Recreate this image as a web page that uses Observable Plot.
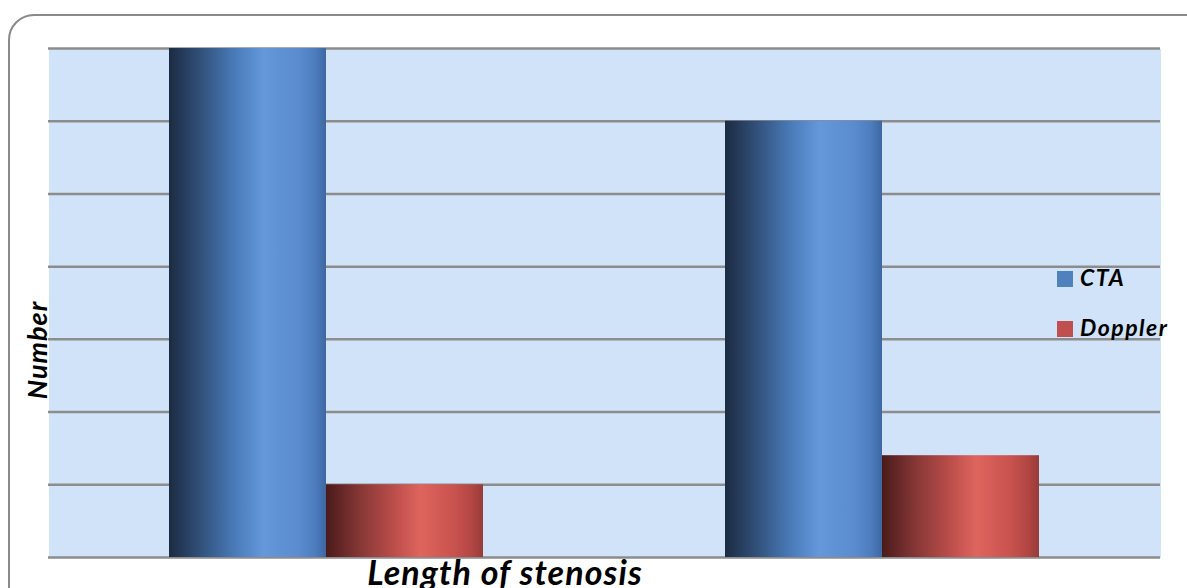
<!DOCTYPE html>
<html>
<head>
<meta charset="utf-8">
<script src="https://cdn.jsdelivr.net/npm/d3@7"></script>
<script src="https://cdn.jsdelivr.net/npm/@observablehq/plot@0.6"></script>
<style>
  html, body { margin: 0; padding: 0; background: #fff; overflow: hidden; width: 1187px; height: 588px; }
  #wrap { position: relative; width: 1187px; height: 588px; }
  #border { position: absolute; left: 8px; top: 14px; width: 1220px; height: 620px;
            border: 2px solid #8a8a8a; border-radius: 26px; box-sizing: border-box; }
  #chart { position: absolute; left: 0; top: 0; }
</style>
</head>
<body>
<div id="wrap">
  <div id="border"></div>
  <div id="chart"></div>
</div>
<script>
// Stenosis length groups and the count found by each modality
const groups = ["Short segment", "Long segment"];
const series = ["CTA", "Doppler"];
const ctaValues = [7, 6];
const dopplerValues = [1, 1.4];
const gridValues = [0, 1, 2, 3, 4, 5, 6, 7];
const legendColors = ["#4f81bd", "#c0504d"];

const rows = [];
groups.forEach((g, i) => {
  rows.push({group: g, series: "CTA", value: ctaValues[i]});
  rows.push({group: g, series: "Doppler", value: dopplerValues[i]});
});

const fontFamily = "Lato, 'Open Sans', sans-serif";

const chart = Plot.plot({
  width: 1187,
  height: 588,
  marginLeft: 48,
  marginRight: 27,
  marginTop: 48,
  marginBottom: 31,
  style: {background: "transparent", fontFamily},
  fx: {domain: groups, padding: 0, axis: null},
  x: {domain: series, paddingInner: 0, paddingOuter: 0.76, axis: null},
  y: {domain: [0, 7], axis: null},
  marks: [
    Plot.frame({fill: "#d1e3f8", stroke: "none", shapeRendering: "crispEdges"}),
    Plot.ruleY(gridValues, {stroke: "#8c8c8c", strokeWidth: 2.5}),
    Plot.barY(rows.filter(d => d.series === "CTA"),
      {fx: "group", x: "series", y: "value", fill: "url(#gradCTA)"}),
    Plot.barY(rows.filter(d => d.series === "Doppler"),
      {fx: "group", x: "series", y: "value", fill: "url(#gradDoppler)"})
  ]
});

// Shaded cylinder-like gradients for the bars
const svg = d3.select(chart);
const defs = svg.insert("defs", ":first-child");
const gradients = {
  gradCTA: [["0%", "#1c2b42"], ["22%", "#33547f"], ["42%", "#4a7bb9"], ["60%", "#6498db"],
            ["82%", "#5a8ccf"], ["93%", "#4d7dbe"], ["100%", "#3d67a2"]],
  gradDoppler: [["0%", "#4a1a1a"], ["22%", "#873836"], ["42%", "#b84c49"], ["60%", "#df645e"],
                ["82%", "#c8524e"], ["93%", "#b24643"], ["100%", "#963c39"]]
};
for (const [id, stops] of Object.entries(gradients)) {
  const lg = defs.append("linearGradient").attr("id", id)
    .attr("x1", "0").attr("x2", "1").attr("y1", "0").attr("y2", "0");
  for (const [o, c] of stops) lg.append("stop").attr("offset", o).attr("stop-color", c);
}

const boldItalic = sel => sel
  .attr("font-family", fontFamily)
  .attr("font-weight", "bold")
  .attr("font-style", "italic")
  .attr("fill", "#000");

// Axis titles
svg.append("text")
  .attr("x", 505).attr("y", 585)
  .attr("text-anchor", "middle")
  .attr("font-size", 34).attr("letter-spacing", "1.1px")
  .call(boldItalic)
  .text("Length of stenosis");

svg.append("text")
  .attr("transform", "translate(47,350) rotate(-90)")
  .attr("text-anchor", "middle")
  .attr("font-size", 27).attr("letter-spacing", "1px")
  .call(boldItalic)
  .text("Number");

// Legend
const legend = svg.append("g").attr("transform", "translate(1057,271)");
series.forEach((s, i) => {
  const row = legend.append("g").attr("transform", `translate(0,${i * 50})`);
  row.append("rect").attr("width", 16).attr("height", 16).attr("fill", legendColors[i]);
  row.append("text").attr("x", 23).attr("y", 15)
    .attr("text-anchor", "start")
    .attr("font-size", 23).attr("letter-spacing", "1.5px")
    .call(boldItalic)
    .text(s);
});

document.getElementById("chart").appendChild(chart);
</script>
</body>
</html>
